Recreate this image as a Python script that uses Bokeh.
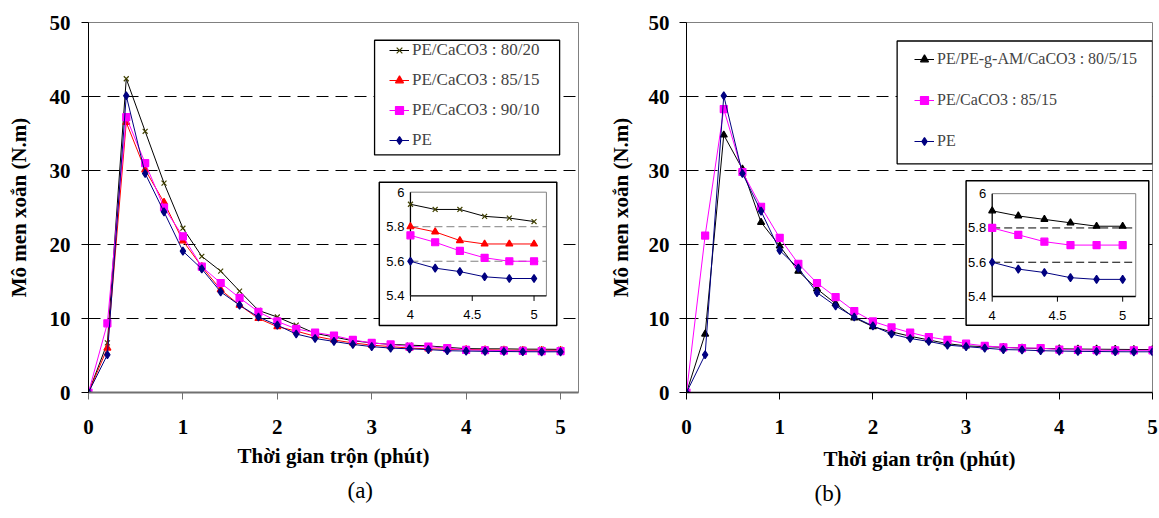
from bokeh.plotting import figure
from bokeh.models import Range1d, FixedTicker, Legend, LegendItem, Title
from bokeh.layouts import row
from bokeh.embed import file_html
from bokeh.resources import INLINE
from bokeh.core.properties import value

# ---------------- data ----------------
time_min = [0.0, 0.2, 0.4, 0.6, 0.8, 1.0, 1.2, 1.4, 1.6, 1.8, 2.0, 2.2, 2.4,
            2.6, 2.8, 3.0, 3.2, 3.4, 3.6, 3.8, 4.0, 4.2, 4.4, 4.6, 4.8, 5.0]

# chart (a)
a_8020 = [0, 6.7, 42.4, 35.3, 28.3, 22.2, 18.4, 16.4, 13.7, 11.1, 10.2, 9.1, 8.0,
          7.5, 7.0, 6.7, 6.5, 6.4, 6.3, 6.1, 5.93, 5.90, 5.90, 5.86, 5.85, 5.83]
a_8515 = [0, 6.0, 36.5, 30.1, 25.7, 20.5, 17.0, 13.9, 11.8, 10.0, 8.9, 8.3, 7.6,
          7.1, 6.7, 6.4, 6.2, 6.0, 5.9, 5.85, 5.80, 5.77, 5.72, 5.70, 5.70, 5.70]
a_9010 = [0, 9.35, 37.2, 31.0, 25.0, 21.1, 17.0, 14.8, 12.8, 10.9, 9.6, 8.6, 8.1,
          7.7, 7.1, 6.7, 6.5, 6.2, 6.2, 6.0, 5.75, 5.71, 5.66, 5.62, 5.60, 5.60]
a_pe = [0, 5.1, 40.1, 29.6, 24.4, 19.1, 16.7, 13.6, 11.8, 10.2, 9.1, 7.9, 7.3,
        6.9, 6.5, 6.2, 6.0, 5.9, 5.8, 5.65, 5.60, 5.56, 5.54, 5.51, 5.50, 5.50]
a_labels = ["PE/CaCO3 : 80/20", "PE/CaCO3 : 85/15", "PE/CaCO3 : 90/10", "PE"]

# chart (b)
b_gam = [0, 7.9, 34.8, 30.2, 23.0, 19.8, 16.4, 14.0, 12.0, 10.1, 8.9, 8.2, 7.6,
         7.1, 6.6, 6.3, 6.2, 6.1, 6.0, 5.95, 5.90, 5.87, 5.85, 5.83, 5.81, 5.81]
b_8515 = [0, 21.2, 38.3, 29.8, 25.1, 20.9, 17.4, 14.8, 12.9, 11.0, 9.6, 8.8, 8.1,
          7.5, 7.1, 6.6, 6.3, 6.1, 6.0, 6.0, 5.80, 5.76, 5.72, 5.70, 5.70, 5.70]
b_pe = [0, 5.1, 40.1, 29.6, 24.5, 19.2, 16.8, 13.5, 11.7, 10.2, 9.0, 7.9, 7.3,
        6.9, 6.4, 6.2, 6.0, 5.8, 5.75, 5.65, 5.60, 5.56, 5.54, 5.51, 5.50, 5.50]
b_labels = ["PE/PE-g-AM/CaCO3 : 80/5/15", "PE/CaCO3 : 85/15", "PE"]

y_ticks = [0, 10, 20, 30, 40, 50]
grid_ticks = [10, 20, 30, 40]
x_ticks = [0, 1, 2, 3, 4, 5]
inset_y_ticks = [5.4, 5.6, 5.8, 6.0]
inset_y_labels = ["5.4", "5.6", "5.8", "6"]
inset_grid = [5.6, 5.8]
inset_x_ticks = [4, 4.5, 5]
inset_x_labels = ["4", "4.5", "5"]
inset_x_range = (4.0, 5.1)
inset_y_range = (5.4, 6.0)
INSET_START = 20  # index of t = 4.0

SERIF = "Liberation Serif"
SANS = "Liberation Sans"


def build(cfg):
    p = figure(width=cfg["w"], height=cfg["h"], output_backend="svg", toolbar_location=None,
               x_range=Range1d(0, cfg["xmax"]), y_range=Range1d(0, 50),
               min_border_left=cfg["bl"], min_border_right=cfg["br"],
               min_border_top=cfg["bt"], min_border_bottom=cfg["bb"])
    p.background_fill_color = "white"
    p.border_fill_color = "white"
    p.outline_line_color = "#808080"
    p.outline_line_width = 1

    # axes
    p.xaxis.ticker = FixedTicker(ticks=x_ticks)
    p.yaxis.ticker = FixedTicker(ticks=y_ticks)
    for ax in (p.xaxis[0], p.yaxis[0]):
        ax.major_label_text_font = SERIF
        ax.major_label_text_font_style = "bold"
        ax.major_label_text_font_size = "21px"
        ax.major_label_text_color = "black"
        ax.axis_label_text_font = SERIF
        ax.axis_label_text_font_style = "bold"
        ax.axis_label_text_font_size = "21px"
        ax.axis_label_text_color = "black"
        ax.major_tick_in = 0
        ax.major_tick_out = 7
        ax.minor_tick_line_color = None
        ax.major_tick_line_color = "black"
        ax.axis_line_color = "black"
    p.xaxis.axis_label = "Thời gian trộn (phút)"
    p.yaxis.axis_label = "Mô men xoắn (N.m)"
    p.yaxis.major_label_standoff = cfg["ystand"]
    p.yaxis.axis_label_standoff = cfg["ylabstand"]
    p.xaxis.major_label_standoff = cfg["xstand"]
    p.xaxis.axis_label_standoff = cfg["xlabstand"]
    p.xaxis.axis_line_color = cfg["xaxis_color"]
    p.xaxis.axis_line_width = cfg["xaxis_width"]
    p.xaxis.major_tick_line_color = cfg["xaxis_color"]

    p.xgrid.visible = False
    p.ygrid.ticker = FixedTicker(ticks=grid_ticks)
    p.ygrid.grid_line_color = "black"
    p.ygrid.grid_line_dash = "12 7"
    p.ygrid.grid_line_width = 1

    # main series
    items = []
    for lab, vals, st in zip(cfg["labels"], cfg["series"], cfg["styles"]):
        lr = p.line(time_min, vals, line_color=st["line"], line_width=1)
        sr = p.scatter(time_min, vals, marker=st["marker"], size=st["size"],
                       line_color=st["mcolor"], fill_color=st["mcolor"], line_width=1.2)
        items.append(LegendItem(label=lab, renderers=[lr, sr]))

    # legend frame
    lb = cfg["legend_box"]
    p.quad(left=lb[0], right=lb[1], bottom=lb[2], top=lb[3], fill_color="white",
           line_color="black", line_width=1.3)

    leg = Legend(items=items, location=cfg["legend_loc"], padding=0, margin=0,
                 spacing=cfg["leg_spacing"], glyph_width=20, glyph_height=20,
                 label_height=20, label_standoff=3,
                 label_text_font=SERIF, label_text_font_size=cfg["leg_font"],
                 border_line_alpha=0, background_fill_alpha=0)
    p.add_layout(leg)

    # inset
    ob = cfg["inset_outer"]
    p.quad(left=ob[0], right=ob[1], bottom=ob[2], top=ob[3], fill_color="white",
           line_color="black", line_width=1.5)
    ib = cfg["inset_inner"]
    sub = p.subplot(x_source=Range1d(*inset_x_range), y_source=Range1d(*inset_y_range),
                    x_target=Range1d(ib[0], ib[1]), y_target=Range1d(ib[2], ib[3]))
    x0, x1 = inset_x_range
    y0, y1 = inset_y_range
    sub.segment(x0=[x0] * len(inset_grid), x1=[x1] * len(inset_grid), y0=inset_grid, y1=inset_grid,
                line_color=cfg["inset_grid_color"], line_dash="8 4", line_width=1)
    sub.segment(x0=[x0, x1], x1=[x1, x1], y0=[y1, y0], y1=[y1, y1], line_color="#808080", line_width=1)
    sub.segment(x0=[x0, x0], x1=[x1, x0], y0=[y0, y0], y1=[y0, y1], line_color="black", line_width=1.3)
    sub.segment(x0=inset_x_ticks, x1=inset_x_ticks, y0=[y0] * 3, y1=[y0 - 0.03] * 3,
                line_color="black", line_width=1)
    sub.text(x=[x0] * len(inset_y_ticks), y=inset_y_ticks, text=inset_y_labels,
             text_align="right", text_baseline="middle", x_offset=-6,
             text_font=value(SANS), text_font_size="13px", text_color="black")
    sub.text(x=inset_x_ticks, y=[y0] * 3, text=inset_x_labels,
             text_align="center", text_baseline="middle", y_offset=19,
             text_font=value(SANS), text_font_size="13px", text_color="black")
    for vals, st in zip(cfg["series"], cfg["styles"]):
        xs = time_min[INSET_START:]
        ys = vals[INSET_START:]
        sub.line(xs, ys, line_color=st["line"], line_width=1)
        sub.scatter(xs, ys, marker=st["marker"], size=st["size"],
                    line_color=st["mcolor"], fill_color=st["mcolor"], line_width=1.2)

    p.add_layout(Title(text=cfg["tag"], align="left", vertical_align="bottom",
                       offset=cfg["tag_offset"], standoff=cfg["tag_standoff"],
                       text_font=SERIF, text_font_style="normal",
                       text_font_size="23px", text_color="black"), "below")
    return p


style_8020 = dict(line="black", marker="x", mcolor="#404000", size=7)
style_8515_red = dict(line="#FF0000", marker="triangle", mcolor="#FF0000", size=7)
style_9010 = dict(line="#FF00FF", marker="square", mcolor="#FF00FF", size=7)
style_pe = dict(line="#000080", marker="diamond", mcolor="#000080", size=8)
style_gam = dict(line="black", marker="triangle", mcolor="black", size=7)
style_8515_pink = dict(line="#FF00FF", marker="square", mcolor="#FF00FF", size=7)

cfg_a = dict(w=579, h=518, xmax=5.19, bl=88, br=1, bt=22, bb=121,
             ystand=11, ylabstand=16, xstand=20, xlabstand=7,
             xaxis_color="#707070", xaxis_width=2,
             labels=a_labels, series=[a_8020, a_8515, a_9010, a_pe],
             styles=[style_8020, style_8515_red, style_9010, style_pe],
             legend_box=(3.03, 4.99, 32.1, 47.6), legend_loc=(301, 242), leg_spacing=10,
             leg_font="17px",
             inset_outer=(3.08, 4.96, 9.07, 28.4), inset_inner=(3.41, 4.85, 13.07, 27.07),
             inset_grid_color="#808080", tag="(a)", tag_offset=259, tag_standoff=10)

cfg_b = dict(w=580, h=518, xmax=5.0, bl=107, br=7, bt=18, bb=126,
             ystand=10, ylabstand=13, xstand=20, xlabstand=10,
             xaxis_color="black", xaxis_width=1.3,
             labels=b_labels, series=[b_gam, b_8515, b_pe],
             styles=[style_gam, style_8515_pink, style_pe],
             legend_box=(2.26, 5.0, 30.9, 47.5), legend_loc=(228, 241), leg_spacing=21,
             leg_font="16px",
             inset_outer=(3.0, 4.96, 9.09, 28.6), inset_inner=(3.28, 4.82, 12.97, 26.87),
             inset_grid_color="black", tag="(b)", tag_offset=128, tag_standoff=10)

pa = build(cfg_a)
pb = build(cfg_b)
layout = row(pa, pb)

open("out.html", "w").write(file_html(layout, INLINE))
